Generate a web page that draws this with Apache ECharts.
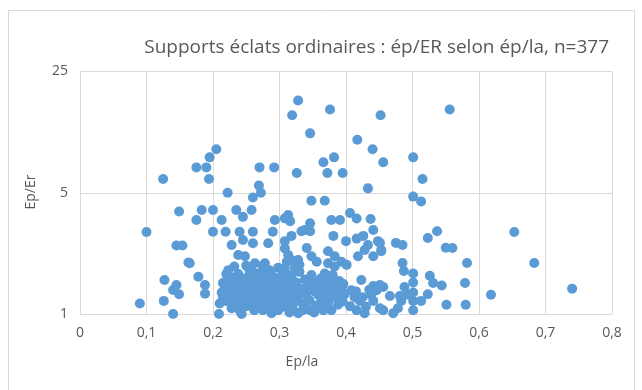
<!DOCTYPE html>
<html><head><meta charset="utf-8">
<script src="https://cdn.jsdelivr.net/npm/echarts@6/dist/echarts.min.js"></script>
<style>html,body{margin:0;padding:0;background:#fff}#c{width:642px;height:390px}</style>
</head><body><div id="c"></div>
<script>
const titleText = 'Supports éclats ordinaires : ép/ER selon ép/la, n=377';
const xName = 'Ep/la';
const yName = 'Ep/Er';
const xTicks = [0, 0.1, 0.2, 0.3, 0.4, 0.5, 0.6, 0.7, 0.8];
const yTicks = [1, 5, 25];

// Points above Ep/Er = 4.5
const upperPts = [
[0.328,17.0],[0.319,14.0],[0.376,15.1],[0.346,11.0],[0.452,14.0],[0.417,10.1],[0.440,8.9],[0.456,7.5],
[0.501,8.0],[0.515,6.0],[0.433,5.3],[0.556,15.1],[0.270,7.0],[0.292,7.0],[0.326,6.5],[0.366,7.5],
[0.382,8.0],[0.372,6.5],[0.395,6.5],[0.269,5.5],[0.272,5.0],[0.260,4.7],[0.205,8.9],[0.195,8.0],
[0.175,7.0],[0.190,7.0],[0.125,6.0],[0.194,6.0],[0.222,5.0],[0.501,4.75],[0.513,4.45],[0.348,4.5],[0.368,4.5]
];
// Left part (Ep/la < 0.17)
const leftPts = [
[0.100,2.97],[0.145,2.48],[0.154,2.48],[0.163,1.98],[0.127,1.57],[0.145,1.47],[0.140,1.375],[0.149,1.30],
[0.090,1.15],[0.126,1.19],[0.140,1.0],[0.149,3.9]
];
// 0.17 - 0.31
const midLeftPts = [
[0.183,3.98],[0.200,3.98],[0.175,3.48],[0.213,3.48],[0.235,3.98],[0.245,3.63],[0.258,3.98],[0.293,3.48],
[0.308,3.56],[0.200,2.98],[0.219,2.98],[0.240,2.98],[0.260,2.98],[0.290,2.98],[0.228,2.50],[0.245,2.67],
[0.260,2.56],[0.283,2.56],[0.238,2.19],[0.248,2.15],[0.308,2.39],[0.165,1.96],[0.178,1.64],[0.188,1.47],
[0.188,1.31],[0.223,1.79],[0.223,1.64],[0.263,1.96],[0.278,1.96],[0.255,1.75],[0.209,1.0],[0.243,1.0],[0.288,1.01],
[0.220,1.70],[0.215,1.51],[0.213,1.33],[0.220,1.19],[0.230,1.11],[0.240,1.05],[0.250,1.11],[0.266,1.08],
[0.275,1.05],[0.290,1.08],[0.303,1.13],[0.238,1.51],[0.253,1.35],[0.266,1.42],[0.280,1.57],[0.296,1.61],
[0.305,1.75],[0.298,1.35],[0.285,1.29],[0.270,1.25],[0.255,1.25],[0.235,1.29],[0.225,1.42],[0.273,1.75],
[0.285,1.79],[0.266,1.61],[0.311,2.00],[0.301,1.47],[0.311,1.25]
];
// 0.31 - 0.46
const midPts = [
[0.313,3.72],[0.316,3.43],[0.346,3.33],[0.338,3.05],[0.346,3.0],[0.378,3.48],[0.391,3.48],[0.406,3.82],
[0.416,3.55],[0.437,3.53],[0.441,3.05],[0.333,3.0],[0.318,2.82],[0.381,2.82],[0.400,2.63],[0.416,2.72],
[0.426,2.82],[0.433,2.50],[0.428,2.34],[0.448,2.63],[0.453,2.34],[0.441,2.15],[0.418,2.15],[0.341,2.40],
[0.348,2.15],[0.356,2.00],[0.373,2.30],[0.383,2.15],[0.393,2.00],[0.401,1.92],[0.373,1.96],[0.383,1.88],
[0.328,2.05],[0.323,1.84],[0.313,1.68],[0.348,1.68],[0.351,1.47],[0.368,1.71],[0.376,1.57],[0.381,1.45],
[0.383,1.33],[0.396,1.49],[0.393,1.37],[0.423,1.57],[0.441,1.45],[0.446,1.37],[0.438,1.29],[0.451,1.47],
[0.408,1.37],[0.413,1.25],[0.421,1.19],[0.358,1.29],[0.363,1.19],[0.366,1.05],[0.318,1.29],[0.326,1.19],
[0.328,1.01],[0.338,1.11],[0.346,1.05],[0.373,1.16],[0.378,1.05],[0.388,1.13],[0.406,1.11],[0.416,1.05],
[0.428,1.01],[0.441,1.19],[0.451,1.08],[0.308,2.63],[0.313,2.19],[0.308,1.84]
];
// 0.46 and beyond
const rightPts = [
[0.523,2.74],[0.537,3.0],[0.550,2.41],[0.560,2.40],[0.582,1.97],[0.475,2.57],[0.485,2.50],[0.451,2.57],
[0.453,2.30],[0.485,1.97],[0.487,1.77],[0.501,1.71],[0.501,1.52],[0.526,1.66],[0.531,1.51],[0.544,1.46],
[0.579,1.51],[0.523,1.30],[0.551,1.13],[0.580,1.13],[0.513,1.19],[0.501,1.33],[0.501,1.19],[0.501,1.05],
[0.488,1.43],[0.481,1.27],[0.491,1.29],[0.466,1.27],[0.456,1.43],[0.456,1.05],[0.471,1.01],[0.478,1.08],
[0.483,1.19],[0.653,2.97],[0.683,1.97],[0.618,1.29],[0.740,1.40]
];
// Overlapping points inside the dense cluster (estimated)
const densePts = [
[0.215,1.25],[0.218,1.40],[0.222,1.55],[0.225,1.30],[0.228,1.20],[0.230,1.45],[0.232,1.62],[0.235,1.38],
[0.237,1.18],[0.240,1.52],[0.242,1.28],[0.245,1.40],[0.247,1.60],[0.250,1.20],[0.252,1.48],[0.255,1.35],
[0.257,1.55],[0.258,1.15],[0.260,1.42],[0.262,1.30],[0.265,1.70],[0.267,1.20],[0.270,1.50],[0.272,1.38],
[0.274,1.12],[0.276,1.62],[0.278,1.30],[0.280,1.45],[0.282,1.20],[0.284,1.55],[0.286,1.40],[0.288,1.68],
[0.290,1.25],[0.292,1.50],[0.294,1.15],[0.296,1.42],[0.298,1.85],[0.300,1.30],[0.302,1.60],[0.304,1.22],
[0.306,1.48],[0.308,1.10],[0.310,1.38],[0.312,1.55],[0.314,1.18],[0.316,1.45],[0.318,1.65],[0.320,1.08],
[0.322,1.35],[0.325,1.52],[0.328,1.25],[0.330,1.75],[0.332,1.40],[0.335,1.15],[0.338,1.58],[0.340,1.30],
[0.343,1.45],[0.345,1.20],[0.350,1.55],[0.353,1.35],[0.355,1.12],[0.360,1.42],[0.362,1.60],[0.365,1.28],
[0.370,1.50],[0.372,1.35],[0.375,1.22],[0.380,1.68],[0.385,1.25],[0.390,1.55],[0.395,1.18],[0.398,1.30],
[0.415,1.35],[0.425,1.25],[0.430,1.10],[0.435,1.38],[0.228,1.08],[0.245,1.15],[0.262,1.05],[0.280,1.10],
[0.298,1.05],[0.315,1.02],[0.335,1.05],[0.352,1.02],[0.238,1.70],[0.258,1.85],[0.275,1.90],[0.318,2.05],
[0.330,1.92],[0.250,1.90],[0.232,1.88],[0.210,1.15]
];

const allPts = [].concat(upperPts, leftPts, midLeftPts, midPts, rightPts, densePts);

const chart = echarts.init(document.getElementById('c'), null, {renderer:'canvas'});
const font = '"Open Sans", "Noto Sans", sans-serif';
const grey = '#595959';
const gridCol = '#D9D9D9';
chart.setOption({
  animation:false,
  backgroundColor:'#fff',
  textStyle:{fontFamily:font},
  grid:{left:80, right:30, top:71.5, bottom:76},
  title:{text:titleText, right:28, top:33, textStyle:{fontFamily:font, fontSize:19, fontWeight:'normal', color:grey}},
  xAxis:{type:'value', min:xTicks[0], max:xTicks[xTicks.length-1], interval:0.1,
    axisLine:{show:true, lineStyle:{color:gridCol}}, axisTick:{show:false},
    splitLine:{show:true, lineStyle:{color:gridCol}},
    axisLabel:{color:grey, fontSize:14, margin:12, fontFamily:font,
      formatter:v => { const r = Math.round(v*10)/10; return r===0 ? '0' : String(r).replace('.', ','); }}
  },
  yAxis:{type:'log', logBase:5, min:yTicks[0], max:yTicks[yTicks.length-1],
    axisLine:{show:false}, axisTick:{show:false},
    splitLine:{show:true, lineStyle:{color:gridCol}},
    axisLabel:{color:grey, fontSize:14, margin:12, fontFamily:font}
  },
  graphic:[
    {type:'rect', shape:{x:8.5, y:10.5, width:626, height:400}, style:{fill:null, stroke:'#D9D9D9', lineWidth:1}, silent:true, z:-1},
    {type:'text', x:302, y:362, style:{text:xName, fill:grey, font:'14px '+font, textAlign:'center', textVerticalAlign:'middle'}},
    {type:'text', x:31, y:192, rotation:Math.PI/2, style:{text:yName, fill:grey, font:'14px '+font, textAlign:'center', textVerticalAlign:'middle'}}
  ],
  series:[{type:'scatter', data:allPts, symbol:'circle', symbolSize:10,
    itemStyle:{color:'#5B9BD5', opacity:1}}]
});
</script></body></html>
